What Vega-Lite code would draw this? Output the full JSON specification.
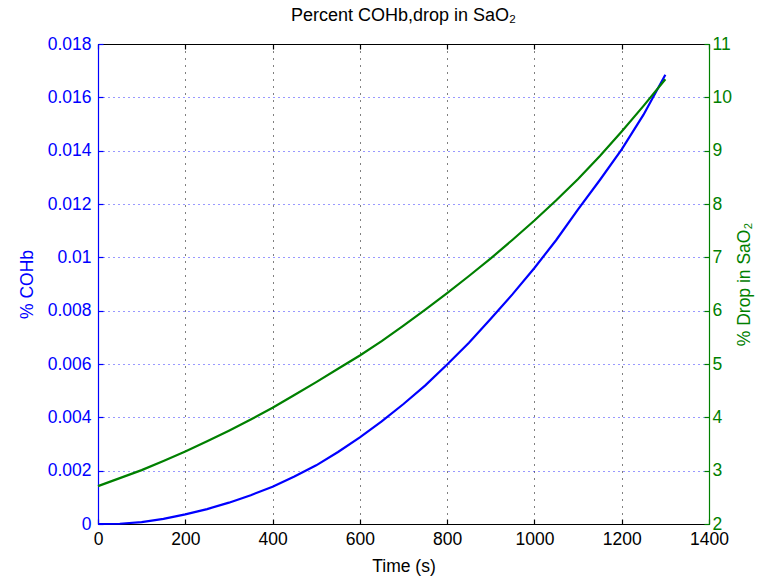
{
  "$schema": "https://vega.github.io/schema/vega-lite/v6.json",
  "width": 611,
  "height": 480,
  "autosize": {"type": "none"},
  "padding": {"left": 98, "top": 44, "right": 64, "bottom": 54},
  "background": "white",
  "config": {
    "font": "Liberation Sans",
    "view": {"stroke": null},
    "axis": {"labelFontSize": 17.5, "titleFontSize": 17.5, "titleFontWeight": "normal", "labelFont": "Liberation Sans", "titleFont": "Liberation Sans", "domainWidth": 1.2, "tickWidth": 1.2, "labelFlush": false}
  },
  "title": {"text": "Percent COHb,drop in SaO₂", "fontSize": 18, "fontWeight": "normal", "offset": 10, "color": "black", "font": "Liberation Sans"},
  "data": {"values": [
    {"t": 0, "cohb": 0.0, "drop": 2.71},
    {"t": 50, "cohb": 0.00001, "drop": 2.86},
    {"t": 100, "cohb": 0.00007, "drop": 3.01},
    {"t": 150, "cohb": 0.00019, "drop": 3.18},
    {"t": 200, "cohb": 0.00036, "drop": 3.36},
    {"t": 250, "cohb": 0.00056, "drop": 3.55},
    {"t": 300, "cohb": 0.0008, "drop": 3.75},
    {"t": 350, "cohb": 0.00108, "drop": 3.96},
    {"t": 400, "cohb": 0.0014, "drop": 4.18},
    {"t": 450, "cohb": 0.00178, "drop": 4.42},
    {"t": 500, "cohb": 0.0022, "drop": 4.66},
    {"t": 550, "cohb": 0.0027, "drop": 4.91},
    {"t": 600, "cohb": 0.00325, "drop": 5.16},
    {"t": 650, "cohb": 0.00385, "drop": 5.43},
    {"t": 700, "cohb": 0.0045, "drop": 5.72},
    {"t": 750, "cohb": 0.0052, "drop": 6.02},
    {"t": 800, "cohb": 0.00598, "drop": 6.33},
    {"t": 850, "cohb": 0.0068, "drop": 6.65},
    {"t": 900, "cohb": 0.0077, "drop": 6.98},
    {"t": 950, "cohb": 0.00862, "drop": 7.33},
    {"t": 1000, "cohb": 0.0096, "drop": 7.69},
    {"t": 1050, "cohb": 0.01065, "drop": 8.07},
    {"t": 1100, "cohb": 0.0118, "drop": 8.47},
    {"t": 1150, "cohb": 0.0129, "drop": 8.9},
    {"t": 1200, "cohb": 0.01405, "drop": 9.36},
    {"t": 1250, "cohb": 0.01535, "drop": 9.84},
    {"t": 1300, "cohb": 0.01685, "drop": 10.34}
  ]},
  "layer": [
    {
      "mark": {"type": "line", "color": "#0000ff", "strokeWidth": 2.2},
      "encoding": {
        "x": {"field": "t", "type": "quantitative", "scale": {"domain": [0, 1400], "nice": false},
          "axis": {"orient": "bottom", "title": "Time (s)", "values": [0, 200, 400, 600, 800, 1000, 1200, 1400], "format": "d", "grid": true, "gridColor": "black", "gridDash": [1, 6], "gridWidth": 1, "domainColor": "black", "tickColor": "black", "tickSize": -5, "labelPadding": 11, "labelColor": "black", "titleColor": "black", "titlePadding": 10}},
        "y": {"field": "cohb", "type": "quantitative", "scale": {"domain": [0, 0.018], "nice": false},
          "axis": {"orient": "left", "title": "% COHb", "values": [0, 0.002, 0.004, 0.006, 0.008, 0.01, 0.012, 0.014, 0.016, 0.018], "format": "~g", "grid": true, "gridColor": "#0000ff", "gridDash": [1, 4], "gridWidth": 1, "gridOpacity": 0.8, "domainColor": "#0000ff", "tickColor": "#0000ff", "tickSize": -5, "labelPadding": 12, "labelColor": "#0000ff", "titleColor": "#0000ff", "titlePadding": 11}}
      }
    },
    {
      "mark": {"type": "line", "color": "#008000", "strokeWidth": 2.2},
      "encoding": {
        "x": {"field": "t", "type": "quantitative",
          "axis": {"orient": "top", "title": null, "labels": false, "values": [0, 200, 400, 600, 800, 1000, 1200, 1400], "grid": false, "domainColor": "black", "tickColor": "black", "tickSize": -5}},
        "y": {"field": "drop", "type": "quantitative", "scale": {"domain": [2, 11], "nice": false},
          "axis": {"orient": "right", "title": "% Drop in SaO₂", "titleAngle": 270, "values": [2, 3, 4, 5, 6, 7, 8, 9, 10, 11], "grid": false, "domainColor": "#008000", "tickColor": "#008000", "tickSize": -5, "labelPadding": 8, "labelColor": "#008000", "titleColor": "#008000", "titlePadding": 22}}
      }
    }
  ],
  "resolve": {"scale": {"y": "independent"}, "axis": {"x": "independent"}}
}
